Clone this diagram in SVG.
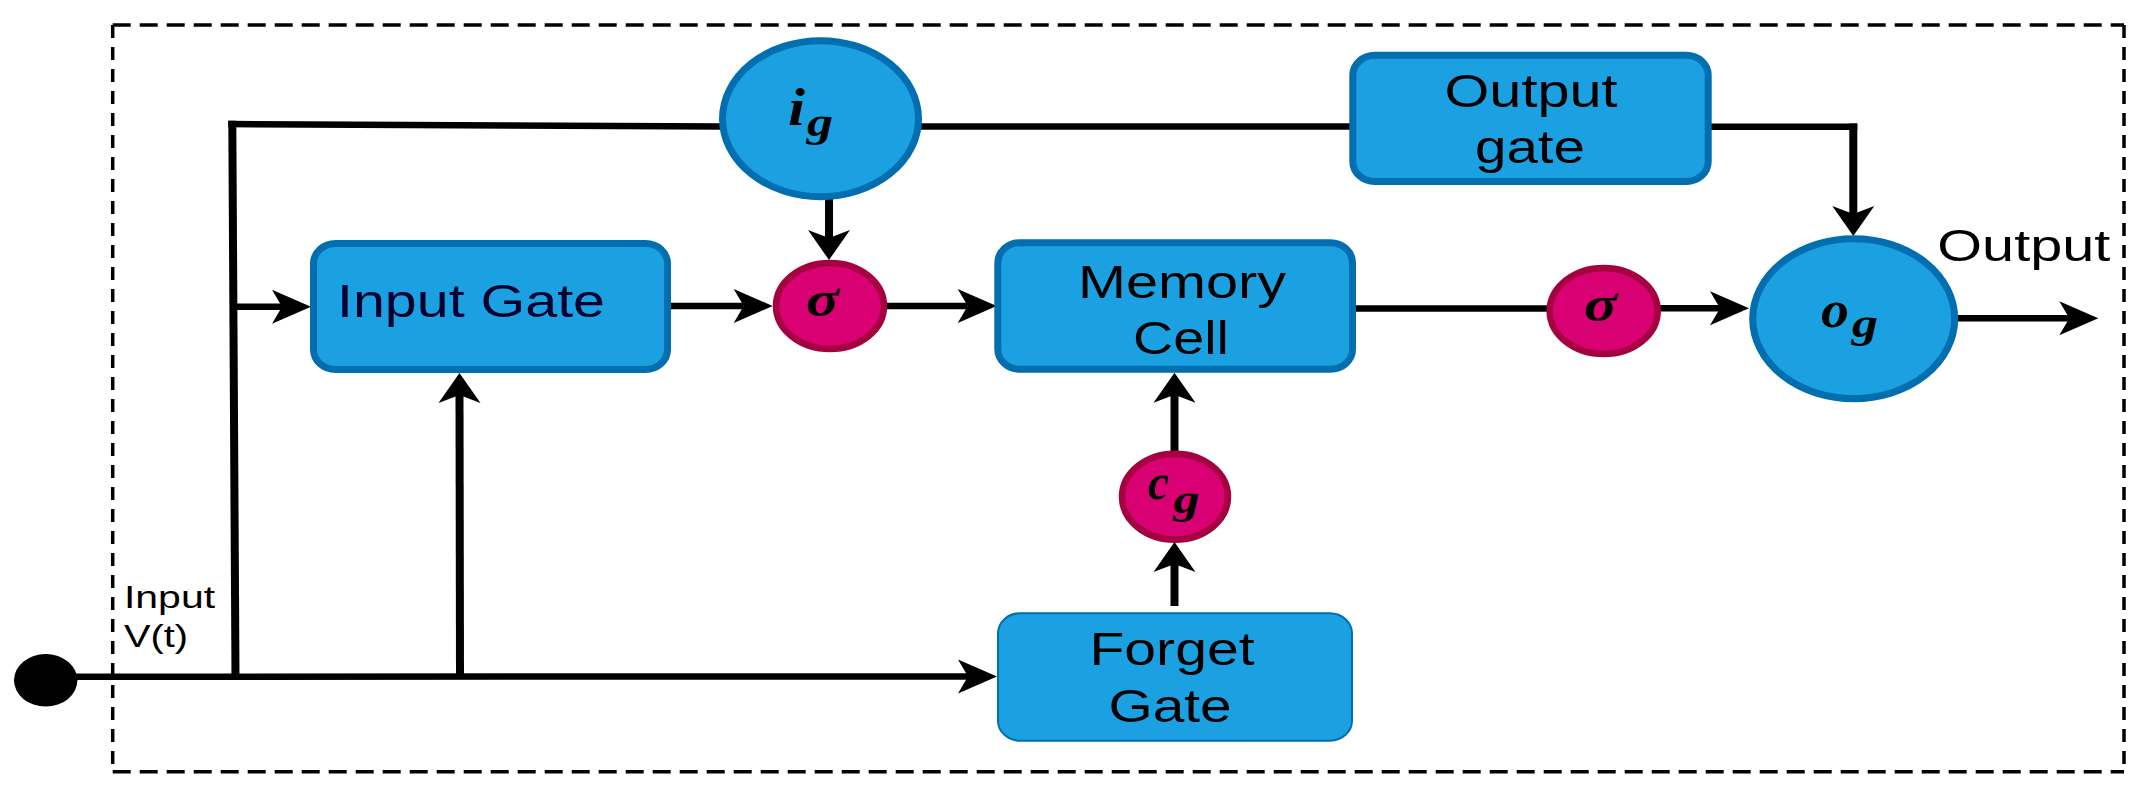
<svg xmlns="http://www.w3.org/2000/svg" width="2147" height="791" viewBox="0 0 2147 791">
<style>
.bg{fill:#ffffff}
.bord{fill:none;stroke:#000;stroke-width:3.5}
.bh{stroke-dasharray:18 9}
.bv{stroke-dasharray:13 9}
.box{fill:#1ba1e2;stroke:#006eaf;stroke-width:7}
.thin{stroke-width:2}
.blue{fill:#1ba1e2;stroke:#006eaf;stroke-width:7}
.mag{fill:#d80073;stroke:#a50040;stroke-width:6.5}
.h{fill:none;stroke:#000;stroke-width:6.5}
.v{fill:none;stroke:#000;stroke-width:8}
.lbl{font-family:"Liberation Sans",Arial,sans-serif;fill:#000}
.math{font-family:"Liberation Serif","Times New Roman",serif;font-weight:bold;font-style:italic;fill:#000}
</style>
<defs>
<marker id="ah" markerUnits="userSpaceOnUse" viewBox="-14 -20 48 40" refX="0" refY="0" markerWidth="48" markerHeight="40" orient="auto" overflow="visible">
<path d="M29,0 L-10,-17 L0,0 L-10,17 Z" fill="#000"/>
</marker>
<marker id="av" markerUnits="userSpaceOnUse" viewBox="-12 -24 38 48" refX="0" refY="0" markerWidth="38" markerHeight="48" orient="auto" overflow="visible">
<path d="M22,0 L-8,-21 L0,0 L-8,21 Z" fill="#000"/>
</marker>
</defs>
<rect class="bg" x="0" y="0" width="2147" height="791"/>
<g id="border">
<line class="bord bh" x1="112.7" y1="25" x2="2124" y2="25"/>
<line class="bord bh" x1="112.7" y1="771.7" x2="2124" y2="771.7"/>
<line class="bord bv" x1="112.7" y1="25" x2="112.7" y2="771.7"/>
<line class="bord bv" x1="2124" y1="25" x2="2124" y2="771.7"/>
</g>
<g id="connectors">
<line class="h" x1="46" y1="676.7" x2="968" y2="676.5" marker-end="url(#ah)"/>
<line class="v" x1="235.5" y1="677" x2="232.3" y2="120.8"/>
<line class="h" x1="228.3" y1="124" x2="722" y2="126.5"/>
<line class="h" x1="234" y1="306.7" x2="282" y2="306.7" marker-end="url(#ah)"/>
<line class="v" x1="460" y1="677" x2="459.5" y2="395" marker-end="url(#av)"/>
<line class="h" x1="920" y1="126.5" x2="1350" y2="126.5"/>
<line class="h" x1="1711" y1="126.7" x2="1857.3" y2="126.7"/>
<line class="v" x1="1853.3" y1="123.5" x2="1853.3" y2="214" marker-end="url(#av)"/>
<line class="v" x1="829" y1="198" x2="829" y2="238" marker-end="url(#av)"/>
<line class="h" x1="671" y1="306" x2="743.7" y2="306" marker-end="url(#ah)"/>
<line class="h" x1="886" y1="306" x2="967.7" y2="306" marker-end="url(#ah)"/>
<line class="h" x1="1355" y1="308.5" x2="1548" y2="308.5"/>
<line class="h" x1="1660" y1="308.3" x2="1720" y2="308.3" marker-end="url(#ah)"/>
<line class="h" x1="1957" y1="318.3" x2="2069.3" y2="318.3" marker-end="url(#ah)"/>
<line class="v" x1="1174.5" y1="452" x2="1174.5" y2="394.7" marker-end="url(#av)"/>
<line class="v" x1="1174.5" y1="606" x2="1174.5" y2="564" marker-end="url(#av)"/>
</g>
<g id="input-dot">
<ellipse cx="45.7" cy="680.3" rx="31.7" ry="26.3" fill="#000"/>
</g>
<g id="input-label">
<text class="lbl" x="124" y="607.7" font-size="32" textLength="91" lengthAdjust="spacingAndGlyphs">Input</text>
<text class="lbl" x="124" y="646.7" font-size="32" textLength="64" lengthAdjust="spacingAndGlyphs">V(t)</text>
</g>
<g id="input-gate">
<rect class="box" x="313.5" y="243.5" width="354" height="126" rx="22" ry="20"/>
<text class="lbl" x="337" y="317" font-size="47" style="fill:#00002e" textLength="268" lengthAdjust="spacingAndGlyphs">Input Gate</text>
</g>
<g id="ig">
<ellipse class="blue" cx="820.5" cy="118.7" rx="98" ry="78"/>
<text class="math" x="788" y="125" font-size="53" textLength="17" lengthAdjust="spacingAndGlyphs">i</text>
<text class="math" x="807" y="136" font-size="40" textLength="26" lengthAdjust="spacingAndGlyphs">g</text>
</g>
<g id="sigma1">
<ellipse class="mag" cx="830" cy="306" rx="54" ry="43"/>
<text class="math" x="806" y="316" font-size="50" textLength="33" lengthAdjust="spacingAndGlyphs">σ</text>
</g>
<g id="memory-cell">
<rect class="box" x="997.8" y="242.8" width="354.7" height="126.4" rx="22" ry="20"/>
<text class="lbl" x="1182" y="298.3" font-size="47" text-anchor="middle" textLength="208" lengthAdjust="spacingAndGlyphs">Memory</text>
<text class="lbl" x="1181" y="354" font-size="47" text-anchor="middle" textLength="96" lengthAdjust="spacingAndGlyphs">Cell</text>
</g>
<g id="output-gate">
<rect class="box" x="1352.8" y="55.2" width="355.4" height="126.3" rx="22" ry="20"/>
<text class="lbl" x="1531" y="107.3" font-size="47" text-anchor="middle" textLength="173" lengthAdjust="spacingAndGlyphs">Output</text>
<text class="lbl" x="1530" y="162.7" font-size="47" text-anchor="middle" textLength="110" lengthAdjust="spacingAndGlyphs">gate</text>
</g>
<g id="sigma2">
<ellipse class="mag" cx="1603.7" cy="311" rx="54" ry="43"/>
<text class="math" x="1584" y="321" font-size="50" textLength="33" lengthAdjust="spacingAndGlyphs">σ</text>
</g>
<g id="og">
<ellipse class="blue" cx="1853.7" cy="318.7" rx="101" ry="80"/>
<text class="math" x="1821" y="327" font-size="52" textLength="28" lengthAdjust="spacingAndGlyphs">o</text>
<text class="math" x="1852" y="337" font-size="40" textLength="26" lengthAdjust="spacingAndGlyphs">g</text>
</g>
<g id="output-label">
<text class="lbl" x="1937.3" y="260.7" font-size="45" textLength="173" lengthAdjust="spacingAndGlyphs">Output</text>
</g>
<g id="cg">
<ellipse class="mag" cx="1175" cy="496.7" rx="53" ry="43"/>
<text class="math" x="1148" y="499" font-size="50" textLength="21" lengthAdjust="spacingAndGlyphs">c</text>
<text class="math" x="1173.5" y="513" font-size="40" textLength="26" lengthAdjust="spacingAndGlyphs">g</text>
</g>
<g id="forget-gate">
<rect class="box thin" x="998" y="613.3" width="354" height="127.4" rx="22" ry="20"/>
<text class="lbl" x="1172" y="665" font-size="46" text-anchor="middle" textLength="165" lengthAdjust="spacingAndGlyphs">Forget</text>
<text class="lbl" x="1170" y="721.7" font-size="46" text-anchor="middle" textLength="123" lengthAdjust="spacingAndGlyphs">Gate</text>
</g>
</svg>
